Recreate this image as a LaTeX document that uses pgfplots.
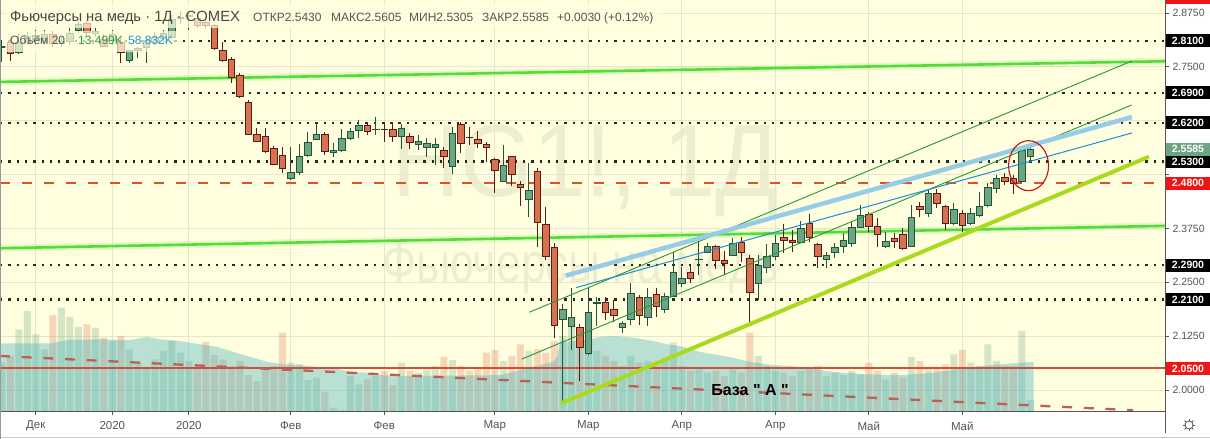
\documentclass[border=0pt]{standalone}
\usepackage{pgfplots}
\pgfplotsset{compat=1.18}
\usepackage{pgfplotstable}
\usetikzlibrary{calc}
\usepackage{fontspec}
\setmainfont{Liberation Sans}
\newcommand\sq{\XeTeXglyph\XeTeXcharglyph"22\relax}
\definecolor{bg}{RGB}{255,255,224}
\definecolor{gridc}{RGB}{230,230,206}
\definecolor{upf}{RGB}{107,165,131}
\definecolor{upd}{RGB}{34,84,55}
\definecolor{dnf}{RGB}{215,114,80}
\definecolor{dnd}{RGB}{91,26,19}
\definecolor{hgreen}{RGB}{86,220,56}
\definecolor{chgreen}{RGB}{40,150,50}
\definecolor{tblue}{RGB}{30,140,210}
\definecolor{lblue}{RGB}{150,205,230}
\definecolor{limec}{RGB}{170,218,30}
\definecolor{dashred}{RGB}{225,80,45}
\definecolor{solred}{RGB}{215,75,55}
\definecolor{volred}{RGB}{190,95,85}
\definecolor{teal2}{RGB}{80,180,192}
\definecolor{txtg}{RGB}{85,85,85}
\definecolor{boxred}{RGB}{240,20,20}
\definecolor{ellc}{RGB}{190,20,20}

\pgfplotstableread{
k O H L C V
0 2.795 2.812 2.761 2.797 58
1 2.807 2.814 2.763 2.782 66
2 2.784 2.828 2.780 2.807 98
3 2.807 2.830 2.800 2.821 120
4 2.814 2.835 2.800 2.823 92
5 2.807 2.835 2.800 2.826 74
6 2.826 2.833 2.795 2.805 115
7 2.805 2.820 2.795 2.810 124
8 2.810 2.840 2.800 2.828 113
9 2.835 2.856 2.828 2.849 101
10 2.851 2.856 2.820 2.830 104
11 2.828 2.840 2.820 2.833 100
12 2.814 2.826 2.795 2.798 88
13 2.812 2.835 2.800 2.826 84
14 2.807 2.820 2.760 2.784 90
15 2.766 2.790 2.760 2.789 74
16 2.789 2.797 2.770 2.792 58
17 2.796 2.820 2.760 2.812 53
18 2.807 2.830 2.800 2.819 62
19 2.815 2.835 2.805 2.828 72
20 2.819 2.870 2.815 2.861 84
21 2.863 2.880 2.850 2.865 70
22 2.866 2.875 2.835 2.870 60
23 2.863 2.870 2.840 2.847 56
24 2.852 2.858 2.840 2.845 83
25 2.845 2.850 2.789 2.793 67
26 2.789 2.807 2.761 2.764 62
27 2.768 2.773 2.712 2.726 54
28 2.731 2.736 2.677 2.682 60
29 2.668 2.673 2.592 2.594 43
30 2.594 2.608 2.576 2.578 36
31 2.589 2.608 2.550 2.553 52
32 2.561 2.566 2.522 2.524 54
33 2.545 2.564 2.503 2.515 94
34 2.490 2.564 2.487 2.506 58
35 2.504 2.571 2.499 2.543 56
36 2.545 2.599 2.541 2.575 37
37 2.582 2.622 2.580 2.594 40
38 2.594 2.599 2.545 2.553 23
39 2.552 2.573 2.541 2.555 4
40 2.555 2.606 2.553 2.583 1
41 2.583 2.608 2.580 2.601 42
42 2.603 2.627 2.585 2.613 32
43 2.615 2.620 2.592 2.600 38
44 2.604 2.634 2.592 2.605 42
45 2.605 2.622 2.575 2.604 48
46 2.605 2.622 2.575 2.589 31
47 2.589 2.617 2.559 2.608 58
48 2.589 2.596 2.559 2.575 48
49 2.571 2.592 2.557 2.578 46
50 2.564 2.585 2.541 2.573 50
51 2.564 2.585 2.522 2.571 54
52 2.557 2.564 2.515 2.543 65
53 2.520 2.610 2.501 2.596 61
54 2.617 2.622 2.550 2.573 54
55 2.587 2.610 2.569 2.586 48
56 2.582 2.601 2.562 2.573 50
57 2.571 2.575 2.529 2.562 70
58 2.536 2.538 2.457 2.510 73
59 2.485 2.569 2.483 2.522 60
60 2.541 2.543 2.473 2.501 66
61 2.478 2.485 2.427 2.471 80
62 2.443 2.527 2.401 2.464 72
63 2.508 2.515 2.332 2.390 74
64 2.385 2.425 2.301 2.311 70
65 2.330 2.341 2.120 2.150 84
66 2.165 2.200 1.970 2.186 90
67 2.148 2.237 2.093 2.169 102
68 2.146 2.153 2.020 2.100 86
69 2.086 2.237 2.081 2.179 94
70 2.200 2.216 2.148 2.204 72
71 2.204 2.216 2.162 2.179 66
72 2.188 2.209 2.158 2.174 60
73 2.146 2.160 2.132 2.155 54
74 2.165 2.248 2.151 2.225 66
75 2.216 2.221 2.151 2.172 58
76 2.169 2.237 2.148 2.216 60
77 2.221 2.237 2.169 2.193 54
78 2.188 2.225 2.179 2.218 62
79 2.218 2.320 2.216 2.272 82
80 2.248 2.285 2.239 2.260 54
81 2.272 2.290 2.248 2.260 48
82 2.302 2.348 2.267 2.304 50
83 2.320 2.341 2.318 2.334 46
84 2.334 2.336 2.280 2.300 48
85 2.300 2.323 2.267 2.294 42
86 2.313 2.353 2.311 2.341 50
87 2.343 2.355 2.297 2.320 46
88 2.306 2.313 2.155 2.227 94
89 2.248 2.313 2.209 2.290 66
90 2.285 2.339 2.271 2.311 54
91 2.309 2.360 2.301 2.341 48
92 2.355 2.385 2.318 2.348 46
93 2.348 2.371 2.320 2.343 42
94 2.343 2.392 2.341 2.374 48
95 2.387 2.408 2.343 2.355 50
96 2.339 2.341 2.283 2.309 54
97 2.304 2.320 2.283 2.313 42
98 2.320 2.341 2.306 2.331 46
99 2.334 2.364 2.318 2.348 43
100 2.341 2.390 2.332 2.378 48
101 2.378 2.429 2.375 2.406 44
102 2.408 2.413 2.367 2.380 58
103 2.380 2.399 2.332 2.360 48
104 2.334 2.367 2.329 2.346 38
105 2.353 2.364 2.329 2.346 46
106 2.362 2.376 2.325 2.329 40
107 2.334 2.429 2.332 2.401 65
108 2.425 2.436 2.401 2.418 60
109 2.411 2.464 2.401 2.457 52
110 2.457 2.466 2.422 2.432 53
111 2.427 2.429 2.371 2.387 56
112 2.387 2.434 2.383 2.418 68
113 2.411 2.418 2.367 2.383 73
114 2.387 2.422 2.383 2.411 58
115 2.406 2.460 2.401 2.425 54
116 2.429 2.480 2.425 2.471 80
117 2.469 2.499 2.457 2.492 60
118 2.494 2.504 2.476 2.485 54
119 2.490 2.499 2.455 2.480 54
120 2.483 2.561 2.480 2.555 96
121 2.543 2.5605 2.5305 2.5585 13.5
}\candles
\pgfplotstablegetrowsof{\candles}
\pgfmathtruncatemacro{\lastrow}{\pgfplotsretval-1}

\pgfplotsset{
  upwick/.style={upd, line width=1pt},
  dnwick/.style={dnd, line width=1pt},
  upbody/.style={fill=upf, draw=upd, line width=0.8pt},
  dnbody/.style={fill=dnf, draw=dnd, line width=0.8pt},
  samegeom/.style={at={(0pt,28pt)}, anchor=south west, width=1165pt, height=411pt,
    scale only axis, xmin=-0.212, xmax=136.85},
}

\begin{document}
\begin{tikzpicture}[x=1pt,y=1pt]
\fill[white] (0,0) rectangle (1210,439);
\fill[bg] (0,28) rectangle (1165,439);
% watermark
\node[anchor=base, inner sep=0, text=black!7!bg, font=\fontsize{103}{103}\selectfont] at (586,242) {\scalebox{0.91}[1]{HG1!, 1Д}};
\node[anchor=base, inner sep=0, text=black!7!bg, font=\fontsize{56}{56}\selectfont] at (581,156) {\scalebox{0.8}[1]{Фьючерсы на медь}};

% axis 1: grid, ticks, labels
\begin{axis}[samegeom, ymin=1.9513, ymax=2.9051,
  axis x line*=bottom, axis y line*=right,
  axis line style={draw=txtg, line width=0.8pt},
  xtick={4,13,22,34,45,58,69,80,91,102,113},
  xticklabels={Дек,2020,2020,Фев,Фев,Мар,Мар,Апр,Апр,Май,Май},
  ytick={2,2.125,2.25,2.375,2.5,2.625,2.75,2.875},
  yticklabels={2.0000,2.1250,2.2500,2.3750,,,2.7500,2.8750},
  grid=major, grid style={gridc, line width=0.8pt},
  tick align=outside, major tick length=4pt,
  tick style={txtg, line width=0.8pt},
  xticklabel style={font=\fontsize{11.5}{12}\selectfont, text=txtg, anchor=center, yshift=-11pt},
  yticklabel style={font=\fontsize{10.5}{11}\selectfont, text=txtg, anchor=west},
]
\end{axis}

% axis 2: volume
\begin{axis}[samegeom, ymin=0, ymax=493.2, axis lines=none]
\addplot[ybar, bar width=7pt, bar shift=0pt, draw=none, fill=upf, fill opacity=0.28,
  restrict expr to domain={\thisrow{C}-\thisrow{O}}{0:1}] table[x=k,y=V]{\candles};
\addplot[ybar, bar width=7pt, bar shift=0pt, draw=none, fill=dnf, fill opacity=0.28,
  restrict expr to domain={\thisrow{C}-\thisrow{O}}{-1:-0.00001}] table[x=k,y=V]{\candles};
\addplot[draw=none, fill=teal2, fill opacity=0.4] coordinates {
(-0.21,81) (5.67,81) (7.67,85) (11.55,86) (15.08,85) (17.08,89) (18.61,86) (20.96,84)
(23.32,80) (25.32,77) (27.2,71) (29.2,65) (31.2,59) (33.08,56) (35.08,55) (37.08,53)
(38.96,52) (40.96,47) (42.96,46) (44.84,43) (46.85,42) (58.6,43) (62.5,53) (64.85,59)
(65.3,64) (65.67,82) (67.2,84) (69.2,86) (70.4,89) (71.9,90) (74.3,88) (76.6,84)
(78.3,80) (80.2,77) (82.1,71) (86.0,64) (88.0,59) (90.0,56) (93.9,53) (97.8,47)
(101.8,44) (105.7,43) (109.6,46) (113.6,52) (115.4,54) (117.4,56) (121.4,59)} \closedcycle;
\end{axis}

% axis 3: price lines and candles
\begin{axis}[samegeom, ymin=1.9513, ymax=2.9051, axis lines=none]
% horizontal levels
\addplot[black!85, line width=2.3pt, dash pattern=on 2.3pt off 6pt] coordinates {(-0.212,2.81) (136.85,2.81)};
\addplot[black!85, line width=2.3pt, dash pattern=on 2.3pt off 6pt] coordinates {(-0.212,2.69) (136.85,2.69)};
\addplot[black!85, line width=2.3pt, dash pattern=on 2.3pt off 6pt] coordinates {(-0.212,2.62) (136.85,2.62)};
\addplot[black!85, line width=2.3pt, dash pattern=on 2.3pt off 6pt] coordinates {(-0.212,2.53) (136.85,2.53)};
\addplot[black!85, line width=2.3pt, dash pattern=on 2.3pt off 6pt] coordinates {(-0.212,2.29) (136.85,2.29)};
\addplot[black!85, line width=2.3pt, dash pattern=on 2.3pt off 6pt] coordinates {(-0.212,2.21) (136.85,2.21)};
\addplot[dashred, line width=2.5pt, dash pattern=on 10pt off 12pt] coordinates {(-0.212,2.48) (136.85,2.48)};
\addplot[solred, line width=2pt] coordinates {(-0.212,2.05) (136.85,2.05)};
% long green lines
\addplot[hgreen, line width=7pt, opacity=0.15] coordinates {(-0.212,2.715) (136.85,2.763)};
\addplot[hgreen, line width=2.6pt] coordinates {(-0.212,2.715) (136.85,2.763)};
\addplot[hgreen, line width=7pt, opacity=0.15] coordinates {(-0.212,2.329) (136.85,2.381)};
\addplot[hgreen, line width=2.6pt] coordinates {(-0.212,2.329) (136.85,2.381)};
% volume dashed line
\addplot[volred, line width=2.3pt, dash pattern=on 10pt off 11.7pt] coordinates {(-0.212,2.079) (133.1,1.953)};
% candles
\pgfplotsinvokeforeach{0,...,\lastrow}{
  \pgfplotstablegetelem{#1}{k}\of{\candles}\let\cK\pgfplotsretval
  \pgfplotstablegetelem{#1}{O}\of{\candles}\let\cO\pgfplotsretval
  \pgfplotstablegetelem{#1}{H}\of{\candles}\let\cH\pgfplotsretval
  \pgfplotstablegetelem{#1}{L}\of{\candles}\let\cL\pgfplotsretval
  \pgfplotstablegetelem{#1}{C}\of{\candles}\let\cC\pgfplotsretval
  \pgfmathsetmacro{\xa}{\cK-0.37}
  \pgfmathsetmacro{\xb}{\cK+0.37}
  \ifdim\cC pt<\cO pt \def\cstyle{dn}\else\def\cstyle{up}\fi
  \edef\temp{%
    \noexpand\addplot[\cstyle wick] coordinates {(\cK,\cL) (\cK,\cH)};
    \noexpand\addplot[\cstyle body] coordinates {(\xa,\cO) (\xb,\cO) (\xb,\cC) (\xa,\cC)} -- cycle;
  }\temp
}
% trend lines
\addplot[chgreen, line width=0.9pt] coordinates {(62.06,2.1805) (132.96,2.7636)};
\addplot[chgreen, line width=0.9pt] coordinates {(61.16,2.0717) (132.93,2.6615)};
\addplot[lblue, line width=4.5pt] coordinates {(66.34,2.2654) (132.96,2.6336)};
\addplot[tblue, line width=1pt] coordinates {(67.55,2.2376) (132.96,2.5965)};
\addplot[limec, line width=4pt] coordinates {(65.79,1.969) (134.96,2.5415)};
\draw[ellc, line width=1.1pt] (axis cs:120.8,2.5206) ellipse [x radius=20pt, y radius=25pt];
% label anchors
\coordinate (q281) at (axis cs:136.85,2.81);
\coordinate (q269) at (axis cs:136.85,2.69);
\coordinate (q262) at (axis cs:136.85,2.62);
\coordinate (q2558) at (axis cs:136.85,2.5585);
\coordinate (q253) at (axis cs:136.85,2.53);
\coordinate (q248) at (axis cs:136.85,2.48);
\coordinate (q229) at (axis cs:136.85,2.29);
\coordinate (q221) at (axis cs:136.85,2.21);
\coordinate (q205) at (axis cs:136.85,2.05);
\end{axis}

% legend
\fill[bg, opacity=0.7] (5,411) rectangle (662,436);
\fill[bg, opacity=0.7] (5,387) rectangle (178,408);
\node[anchor=base west, inner sep=0, text=black!72, font=\fontsize{14.8}{15}\selectfont] at (10,417.3) {Фьючерсы на медь · 1Д · COMEX};
\begin{scope}[every node/.style={anchor=base west, inner sep=0, text=txtg, font=\fontsize{12}{12}\selectfont}]
\node at (253,417.3) {ОТКР2.5430};
\node at (331,417.3) {МАКС2.5605};
\node at (409,417.3) {МИН2.5305};
\node at (482,417.3) {ЗАКР2.5585};
\node at (557,417.3) {+0.0030 (+0.12\%)};
\node at (10,394) {Объём 20};
\node[text={rgb,255:red,50;green,150;blue,75}] at (78,394) {13.499K};
\node[text={rgb,255:red,40;green,150;blue,220}] at (128,394) {58.832K};
\end{scope}

% price boxes
\begin{scope}[every node/.style={text=white, inner sep=0, font=\bfseries\fontsize{10.5}{11}\selectfont}]
\foreach \c/\t/\f in {q281/2.8100/black, q269/2.6900/black, q262/2.6200/black, q253/2.5300/black, q229/2.2900/black, q221/2.2100/black, q248/2.4800/boxred, q205/2.0500/boxred, q2558/2.5585/upf}{
  \fill[\f] ($(\c)+(1,-6.5)$) rectangle ($(\c)+(45,6.5)$);
  \node at ($(\c)+(23,0)$) {\t};
}
\end{scope}
\fill[boxred] (1166,434.5) rectangle (1210,439);

% text label
\node[anchor=base, inner sep=0, font=\bfseries\fontsize{16}{16}\selectfont] at (750,43) {База \sq\ А \sq};

% gear icon and borders
\draw[txtg, line width=0.8pt] (1189,14) circle (4);
\foreach \a in {0,45,...,315} \draw[txtg, line width=0.8pt] (1189,14)++(\a:4) -- ++(\a:2.2);
\draw[black!20, line width=0.8pt] (0,2) -- (1210,2);
\draw[txtg, line width=0.8pt] (1165,6) -- (1165,28);
\draw[black!40, line width=0.8pt] (0.4,0) -- (0.4,439);
\pgfresetboundingbox
\useasboundingbox (0,0) rectangle (1210,439);
\end{tikzpicture}
\end{document}
